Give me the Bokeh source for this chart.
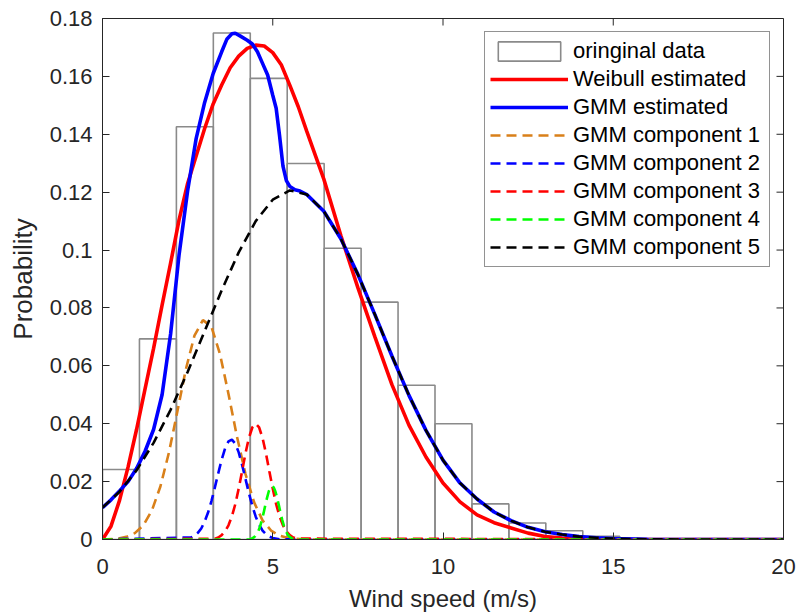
import math
from bokeh.plotting import figure
from bokeh.models import Range1d, FixedTicker, Legend, LegendItem
from bokeh.embed import file_html
from bokeh.resources import INLINE

# ---------------- data ----------------
bin_edges = [0, 1.085, 2.17, 3.255, 4.34, 5.425, 6.51, 7.595, 8.68, 9.765,
             10.85, 11.935, 13.02, 14.105, 15.19]
bin_prob = [0.0242, 0.0693, 0.1426, 0.1750, 0.1593, 0.1299, 0.1006, 0.0820,
            0.0533, 0.0400, 0.0123, 0.0057, 0.0030, 0.0011]

weibull_x = [0, 0.25, 0.5, 0.75, 1.0, 1.25, 1.5, 1.75, 2.0, 2.25, 2.5, 2.75, 3.0,
             3.25, 3.5, 3.75, 4.0, 4.25, 4.5, 4.75, 5.0, 5.25, 5.5, 5.75, 6.0, 6.5,
             7.0, 7.5, 8.0, 8.5, 9.0, 9.5, 10.0, 10.5, 11.0, 11.5, 12.0, 12.5,
             13.0, 13.5, 14.0, 15.0, 20.0]
weibull_y = [0, 0.0046, 0.0135, 0.0250, 0.0380, 0.0520, 0.0660, 0.0810, 0.0955,
             0.1105, 0.1230, 0.1325, 0.1420, 0.1505, 0.1570, 0.1630, 0.1670,
             0.1697, 0.1708, 0.1705, 0.1682, 0.1640, 0.1570, 0.1495, 0.1410,
             0.1245, 0.1050, 0.0870, 0.0700, 0.0535, 0.0395, 0.0285, 0.0195,
             0.0130, 0.0085, 0.0058, 0.0040, 0.0022, 0.0010, 0.0005, 0.0002,
             0.0, 0.0]

gmm_x = [0, 0.25, 0.5, 0.75, 1.0, 1.25, 1.5, 1.75, 2.0, 2.25, 2.5, 2.75, 3.0,
         3.25, 3.5, 3.65, 3.8, 3.9, 4.05, 4.25, 4.4, 4.55, 4.7, 4.85, 5.0, 5.1,
         5.2, 5.3, 5.4, 5.5, 5.65, 5.8, 6.0, 6.5, 7.0, 7.5, 8.0, 8.5, 9.0, 9.5,
         10.0, 10.5, 11.0, 11.5, 12.0, 12.5, 13.0, 13.5, 14.0, 14.5, 15.0, 16.0,
         17.0, 20.0]
gmm_y = [0.0110, 0.0137, 0.0168, 0.0200, 0.0245, 0.0305, 0.0380, 0.0500, 0.0710,
         0.0985, 0.1205, 0.1385, 0.1510, 0.1610, 0.1685, 0.1728, 0.1747, 0.1749,
         0.1739, 0.1725, 0.1712, 0.1685, 0.1645, 0.1605, 0.1535, 0.1490, 0.1395,
         0.1290, 0.1240, 0.1220, 0.1208, 0.1204, 0.1192, 0.1134, 0.1039, 0.0916,
         0.0777, 0.0634, 0.0498, 0.0377, 0.0274, 0.0195, 0.0140, 0.0095, 0.0065,
         0.0042, 0.0027, 0.0017, 0.0010, 0.0006, 0.0003, 0.0001, 0.0, 0.0]

comp1_x = [0, 0.45, 0.7, 0.95, 1.2, 1.45, 1.7, 1.95, 2.2, 2.45, 2.7, 2.95, 3.2,
           3.45, 3.7, 3.95, 4.2, 4.45, 4.7, 4.95, 5.2, 5.45, 6.0, 20.0]
comp1_y = [0, 0.0003, 0.0009, 0.0022, 0.0049, 0.0100, 0.0183, 0.0300, 0.0443,
           0.0589, 0.0704, 0.0758, 0.0735, 0.0641, 0.0503, 0.0355, 0.0226,
           0.0129, 0.0066, 0.0031, 0.0013, 0.0005, 0, 0]

comp2_x = [0, 2.6, 2.7, 2.8, 2.9, 3.0, 3.1, 3.2, 3.3, 3.4, 3.5, 3.6, 3.7, 3.8,
           3.9, 4.0, 4.1, 4.2, 4.3, 4.4, 4.5, 4.6, 4.7, 4.8, 4.9, 5.0, 5.2, 20.0]
comp2_y = [0, 0.0007, 0.0013, 0.0023, 0.0038, 0.0062, 0.0093, 0.0133, 0.0180,
           0.0229, 0.0276, 0.0315, 0.0339, 0.0345, 0.0331, 0.0301, 0.0258,
           0.0209, 0.0160, 0.0116, 0.0079, 0.0051, 0.0031, 0.0018, 0.0010,
           0.0005, 0.0001, 0]

comp3_x = [0, 3.3, 3.4, 3.5, 3.6, 3.7, 3.8, 3.9, 4.0, 4.1, 4.2, 4.3, 4.4, 4.5,
           4.6, 4.7, 4.8, 4.9, 5.0, 5.1, 5.2, 5.3, 5.4, 5.5, 5.6, 5.7, 20.0]
comp3_y = [0, 0.0003, 0.0007, 0.0015, 0.0028, 0.0049, 0.0080, 0.0122, 0.0176,
           0.0236, 0.0298, 0.0351, 0.0387, 0.0400, 0.0387, 0.0351, 0.0298,
           0.0236, 0.0176, 0.0122, 0.0080, 0.0049, 0.0028, 0.0015, 0.0007,
           0.0003, 0]

comp4_x = [0, 4.33, 4.38, 4.43, 4.48, 4.53, 4.58, 4.63, 4.68, 4.73, 4.78, 4.83,
           4.88, 4.93, 4.98, 5.03, 5.08, 5.13, 5.18, 5.23, 5.28, 5.33, 5.38,
           5.43, 5.48, 5.53, 5.58, 5.63, 20.0]
comp4_y = [0, 0, 0.0003, 0.0006, 0.0011, 0.0019, 0.0030, 0.0046, 0.0067, 0.0091,
           0.0118, 0.0143, 0.0165, 0.0180, 0.0185, 0.0180, 0.0165, 0.0143,
           0.0118, 0.0091, 0.0067, 0.0046, 0.0030, 0.0019, 0.0011, 0.0006,
           0.0003, 0, 0]

comp5_x = [0, 0.5, 1, 1.5, 2, 2.5, 3, 3.5, 4, 4.5, 5, 5.5, 6, 6.5, 7, 7.5, 8,
           8.5, 9, 9.5, 10, 10.5, 11, 11.5, 12, 12.5, 13, 13.5, 14, 14.5, 15,
           16, 17, 20]
comp5_y = [0.0110, 0.0165, 0.0239, 0.0334, 0.0448, 0.0579, 0.0720, 0.0861,
           0.0992, 0.1100, 0.1174, 0.1206, 0.1192, 0.1134, 0.1039, 0.0916,
           0.0777, 0.0634, 0.0498, 0.0377, 0.0274, 0.0195, 0.0140, 0.0095,
           0.0065, 0.0042, 0.0027, 0.0017, 0.0010, 0.0006, 0.0003, 0.0001, 0, 0]

x_ticks = [0, 5, 10, 15, 20]
y_ticks = [0, 0.02, 0.04, 0.06, 0.08, 0.1, 0.12, 0.14, 0.16, 0.18]
y_tick_labels = ["0", "0.02", "0.04", "0.06", "0.08", "0.1", "0.12", "0.14",
                 "0.16", "0.18"]

x_label = "Wind speed (m/s)"
y_label = "Probability"
labels = ["oringinal data", "Weibull estimated", "GMM estimated",
          "GMM component 1", "GMM component 2", "GMM component 3",
          "GMM component 4", "GMM component 5"]

# ---------------- figure ----------------
FONT = "Liberation Sans"
TXT = "#262626"
X0, X1 = 0, 20
Y0, Y1 = 0, 0.18

p = figure(width=799, height=614, output_backend="svg", toolbar_location=None,
           x_range=Range1d(X0, X1), y_range=Range1d(Y0, Y1),
           min_border_left=102, min_border_right=16, min_border_top=18,
           min_border_bottom=75, background_fill_color="white",
           border_fill_color="white")
p.xgrid.visible = False
p.ygrid.visible = False
p.outline_line_color = TXT
p.outline_line_width = 1

hist = p.quad(left=bin_edges[:-1], right=bin_edges[1:], top=bin_prob, bottom=0,
              fill_color=None, line_color="#8a8a8a", line_width=1.6)

SOLID_W = 3.6
DASH_W = 2.6
DASH = "10 6"

r_wb = p.line(weibull_x, weibull_y, line_color="#FF0000", line_width=SOLID_W)
r_gmm = p.line(gmm_x, gmm_y, line_color="#0000FF", line_width=SOLID_W)
r_c1 = p.line(comp1_x, comp1_y, line_color="#D9801A", line_width=DASH_W, line_dash=DASH)
r_c2 = p.line(comp2_x, comp2_y, line_color="#0000FF", line_width=DASH_W, line_dash=DASH)
r_c3 = p.line(comp3_x, comp3_y, line_color="#FF0000", line_width=DASH_W, line_dash=DASH)
r_c4 = p.line(comp4_x, comp4_y, line_color="#00FF00", line_width=DASH_W, line_dash=DASH)
r_c5 = p.line(comp5_x, comp5_y, line_color="#000000", line_width=DASH_W, line_dash=DASH)

renderers = [hist, r_wb, r_gmm, r_c1, r_c2, r_c3, r_c4, r_c5]

# inward tick marks on the top and right edges of the box
p.ray(x=x_ticks, y=[Y1] * len(x_ticks), length=7, length_units="screen",
      angle=-math.pi / 2, line_color=TXT, line_width=1)
p.ray(x=[X1] * len(y_ticks), y=y_ticks, length=7, length_units="screen",
      angle=math.pi, line_color=TXT, line_width=1)

# ---------------- axes ----------------
p.xaxis.ticker = FixedTicker(ticks=x_ticks)
p.yaxis.ticker = FixedTicker(ticks=y_ticks)
p.yaxis.major_label_overrides = dict(zip(y_ticks, y_tick_labels))
for ax in (p.xaxis[0], p.yaxis[0]):
    ax.axis_line_color = TXT
    ax.axis_line_width = 1
    ax.major_tick_line_color = TXT
    ax.major_tick_in = 7
    ax.major_tick_out = 0
    ax.minor_tick_line_color = None
    ax.major_label_text_font = FONT
    ax.major_label_text_color = TXT
    ax.major_label_text_font_size = "22px"
    ax.axis_label_text_font = FONT
    ax.axis_label_text_font_style = "normal"
    ax.axis_label_text_color = TXT
p.xaxis.major_label_standoff = 19
p.yaxis.major_label_standoff = 10
p.xaxis.axis_label = x_label
p.yaxis.axis_label = y_label
p.xaxis.axis_label_text_font_size = "24px"
p.yaxis.axis_label_text_font_size = "26px"
p.xaxis.axis_label_standoff = 8
p.yaxis.axis_label_standoff = 9

# ---------------- legend ----------------
items = [LegendItem(label=lab, renderers=[r]) for lab, r in zip(labels, renderers)]
legend = Legend(items=items, location="top_right", margin=13, padding=5,
                spacing=0, glyph_width=78, glyph_height=24, label_height=28,
                label_width=191, label_standoff=5, label_text_font=FONT,
                label_text_font_size="22px", label_text_color="#000000",
                border_line_color=TXT, border_line_width=1,
                background_fill_color="white", background_fill_alpha=1)
p.add_layout(legend)

open("out.html", "w").write(file_html(p, INLINE))
